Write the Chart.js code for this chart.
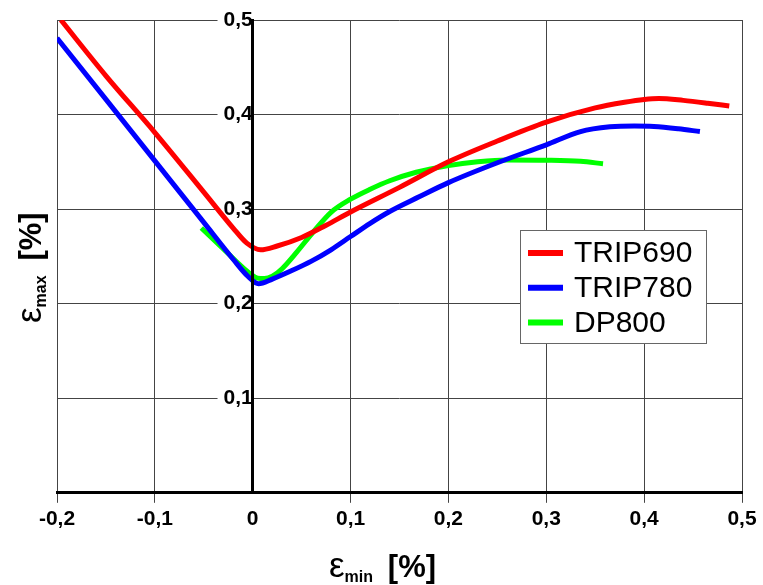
<!DOCTYPE html>
<html>
<head>
<meta charset="utf-8">
<script src="https://cdn.jsdelivr.net/npm/chart.js@4/dist/chart.umd.min.js"></script>
<style>
  html, body { margin: 0; padding: 0; background: #ffffff; }
  #wrap { width: 763px; height: 585px; }
</style>
</head>
<body>
<div id="wrap"><canvas id="c" width="763" height="585"></canvas></div>
<script>
// ---- data ----
const seriesNames = ['TRIP690', 'TRIP780', 'DP800'];
const seriesColors = ['#ff0000', '#0000ff', '#00ff00'];

const trip690X = [-0.196, -0.15, -0.1, -0.05, -0.02, -0.006, 0.008, 0.025, 0.05, 0.075, 0.1, 0.15, 0.2, 0.25, 0.3, 0.35, 0.38, 0.4, 0.415, 0.44, 0.465, 0.487];
const trip690Y = [0.5, 0.441, 0.381, 0.318, 0.280, 0.264, 0.257, 0.261, 0.270, 0.283, 0.297, 0.323, 0.350, 0.372, 0.392, 0.407, 0.413, 0.416, 0.417, 0.415, 0.412, 0.409];

const trip780X = [-0.2, -0.15, -0.1, -0.05, -0.02, -0.005, 0.006, 0.02, 0.04, 0.06, 0.08, 0.1, 0.12, 0.14, 0.17, 0.2, 0.25, 0.3, 0.335, 0.365, 0.39, 0.41, 0.435, 0.457];
const trip780Y = [0.481, 0.416, 0.351, 0.286, 0.247, 0.229, 0.221, 0.226, 0.235, 0.245, 0.257, 0.271, 0.285, 0.2975, 0.313, 0.328, 0.349, 0.368, 0.382, 0.387, 0.388, 0.3875, 0.385, 0.382];

const dp800X = [-0.0525, -0.03, -0.012, -0.003, 0.005, 0.012, 0.02, 0.03, 0.045, 0.062, 0.08, 0.1, 0.12, 0.14, 0.167, 0.2, 0.23, 0.26, 0.3, 0.335, 0.358];
const dp800Y = [0.280, 0.258, 0.240, 0.232, 0.227, 0.2265, 0.229, 0.237, 0.2545, 0.276, 0.2966, 0.3105, 0.321, 0.330, 0.339, 0.346, 0.350, 0.352, 0.3517, 0.3505, 0.348];

const xTickValues = [-0.2, -0.1, 0, 0.1, 0.2, 0.3, 0.4, 0.5];
const yTickValues = [0, 0.1, 0.2, 0.3, 0.4, 0.5];

function toPoints(xs, ys) { return xs.map((x, i) => ({ x: x, y: ys[i] })); }
function fmt(v) {
  const r = Math.round(v * 10) / 10;
  if (r === 0) return '0';
  return r.toFixed(1).replace('.', ',');
}

const GRID = '#444444';
const FONT = "'Liberation Sans', Arial, sans-serif";

// axis titles with subscripts
const axisTitles = {
  id: 'axisTitles',
  afterDraw(chart) {
    const ctx = chart.ctx;
    function parts(main, sub, tail) {
      return [
        { t: main, f: "35px " + FONT, dy: 0 },
        { t: sub, f: "bold 16px " + FONT, dy: 5 },
        { t: '\u2009 ' + tail, f: "bold 31px " + FONT, dy: 0 }
      ];
    }
    function drawParts(ps) {
      let x = 0;
      ps.forEach(p => {
        ctx.font = p.f;
        ctx.fillText(p.t, x, p.dy);
        x += ctx.measureText(p.t).width;
      });
    }
    ctx.save();
    ctx.fillStyle = '#000';
    ctx.textAlign = 'left';
    ctx.textBaseline = 'alphabetic';
    // x title
    ctx.save();
    ctx.translate(329, 577);
    drawParts(parts('\u03b5', 'min', '[%]'));
    ctx.restore();
    // y title
    ctx.save();
    ctx.translate(41, 323);
    ctx.rotate(-Math.PI / 2);
    drawParts(parts('\u03b5', 'max', '[%]'));
    ctx.restore();
    ctx.restore();
  }
};

// legend box inside the plot
const boxLegend = {
  id: 'boxLegend',
  afterDraw(chart) {
    const ctx = chart.ctx;
    const ds = chart.data.datasets;
    const left = 520.5, top = 230.5, w = 186, h = 113;
    ctx.save();
    ctx.fillStyle = '#ffffff';
    ctx.fillRect(left, top, w, h);
    ctx.strokeStyle = '#666666';
    ctx.lineWidth = 1;
    ctx.strokeRect(left, top, w, h);
    ctx.font = "30px " + FONT;
    ctx.textBaseline = 'middle';
    ctx.textAlign = 'left';
    ds.forEach((d, i) => {
      const y = 253 + i * 34.8;
      ctx.strokeStyle = d.borderColor;
      ctx.lineWidth = 6;
      ctx.beginPath();
      ctx.moveTo(528, y);
      ctx.lineTo(563, y);
      ctx.stroke();
      ctx.fillStyle = '#000';
      ctx.fillText(d.label, 574, y + 1);
    });
    ctx.restore();
  }
};

const chart = new Chart(document.getElementById('c'), {
  type: 'line',
  data: {
    datasets: [
      { label: seriesNames[0], data: toPoints(trip690X, trip690Y), borderColor: seriesColors[0] },
      { label: seriesNames[1], data: toPoints(trip780X, trip780Y), borderColor: seriesColors[1] },
      { label: seriesNames[2], data: toPoints(dp800X, dp800Y), borderColor: seriesColors[2] }
    ]
  },
  options: {
    responsive: false,
    animation: false,
    devicePixelRatio: 1,
    layout: { padding: { left: 57, right: 21, top: 20, bottom: 49 } },
    elements: {
      point: { radius: 0 },
      line: { borderWidth: 5, cubicInterpolationMode: 'monotone', fill: false, capStyle: 'butt' }
    },
    plugins: {
      legend: { display: false },
      tooltip: { enabled: false },
      title: { display: false }
    },
    scales: {
      x: {
        type: 'linear',
        min: -0.2, max: 0.5,
        afterBuildTicks: (s) => { s.ticks = xTickValues.map(v => ({ value: v })); },
        grid: { color: GRID, lineWidth: 1, drawTicks: true, tickLength: 10, tickColor: GRID, z: -1 },
        border: { display: true, color: '#000', width: 3, z: 1 },
        ticks: {
          color: '#000',
          font: { family: FONT, size: 21, weight: 'bold' },
          padding: 4,
          maxRotation: 0,
          callback: (v) => fmt(v)
        }
      },
      y: {
        type: 'linear',
        position: { x: 0 },
        min: 0, max: 0.5,
        afterBuildTicks: (s) => { s.ticks = yTickValues.map(v => ({ value: v })); },
        grid: { color: GRID, lineWidth: 1, drawTicks: false, z: -1 },
        border: { display: true, color: '#000', width: 3, z: 1 },
        ticks: {
          color: '#000',
          font: { family: FONT, size: 21, weight: 'bold' },
          padding: 3,
          z: 0,
          showLabelBackdrop: true,
          backdropColor: '#ffffff',
          backdropPadding: { left: 6, right: 1, top: 0, bottom: 0 },
          callback: (v) => (Math.abs(v) < 1e-9 ? '' : fmt(v))
        }
      }
    }
  },
  plugins: [axisTitles, boxLegend]
});
</script>
</body>
</html>
